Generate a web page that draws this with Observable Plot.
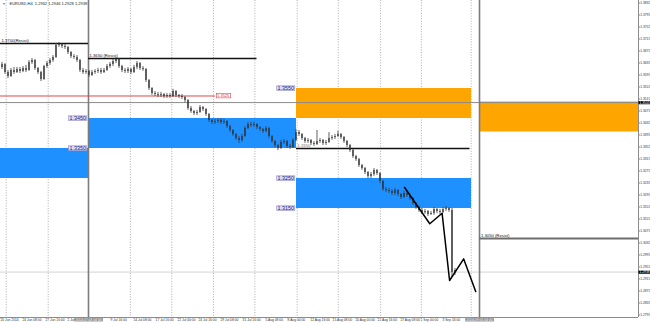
<!DOCTYPE html>
<html><head><meta charset="utf-8">
<script src="https://cdn.jsdelivr.net/npm/d3@7"></script>
<script src="https://cdn.jsdelivr.net/npm/@observablehq/plot@0.6"></script>
<style>html,body{margin:0;padding:0;background:#fff;overflow:hidden}#chart svg{display:block}</style>
</head><body><div id="chart"></div>
<script>
// ---------- data ----------
const symbolTitle = "EURUSD,H4  1.2932 1.2946 1.2928 1.2938";
const firstOpen = 1.3620;
const closes = [
 1.3630,1.3603,1.3590,1.3610,1.3603,1.3613,1.3607,1.3617,1.3610,1.3637,
 1.3643,1.3617,1.3603,1.3580,1.3623,1.3633,1.3643,1.3653,1.3693,1.3697,
 1.3690,1.3687,1.3670,1.3657,1.3653,1.3643,1.3610,1.3603,1.3607,1.3593,
 1.3603,1.3607,1.3610,1.3603,1.3610,1.3623,1.3630,1.3640,1.3647,1.3623,
 1.3610,1.3607,1.3613,1.3603,1.3620,1.3633,1.3617,1.3613,1.3577,1.3550,
 1.3533,1.3530,1.3527,1.3530,1.3523,1.3527,1.3523,1.3540,1.3527,1.3523,
 1.3520,1.3510,1.3483,1.3473,1.3467,1.3470,1.3487,1.3480,1.3463,1.3443,
 1.3437,1.3440,1.3443,1.3437,1.3440,1.3423,1.3410,1.3397,1.3383,1.3377,
 1.3390,1.3417,1.3430,1.3427,1.3430,1.3420,1.3413,1.3407,1.3417,1.3390,
 1.3373,1.3360,1.3350,1.3370,1.3373,1.3357,1.3353,1.3377,1.3403,1.3397,
 1.3383,1.3373,1.3377,1.3367,1.3363,1.3373,1.3377,1.3367,1.3370,1.3383,
 1.3387,1.3390,1.3397,1.3387,1.3373,1.3360,1.3343,1.3323,1.3313,1.3293,
 1.3283,1.3270,1.3257,1.3263,1.3277,1.3267,1.3240,1.3213,1.3210,1.3207,
 1.3200,1.3210,1.3197,1.3187,1.3200,1.3193,1.3183,1.3167,1.3153,1.3143,
 1.3137,1.3140,1.3130,1.3133,1.3147,1.3140,1.3137,1.3147,1.3150,1.3143,
 1.2937,1.2943];
const highs = [
 1.3637,1.3633,1.3610,1.3617,1.3620,1.3620,1.3620,1.3623,1.3627,1.3643,
 1.3650,1.3647,1.3620,1.3607,1.3627,1.3640,1.3650,1.3660,1.3700,1.3703,
 1.3700,1.3697,1.3690,1.3673,1.3663,1.3660,1.3647,1.3617,1.3613,1.3610,
 1.3610,1.3613,1.3617,1.3617,1.3617,1.3630,1.3637,1.3647,1.3653,1.3650,
 1.3627,1.3617,1.3620,1.3617,1.3627,1.3640,1.3637,1.3623,1.3617,1.3580,
 1.3553,1.3540,1.3537,1.3537,1.3533,1.3533,1.3533,1.3547,1.3543,1.3530,
 1.3530,1.3523,1.3513,1.3490,1.3477,1.3477,1.3493,1.3490,1.3483,1.3467,
 1.3447,1.3447,1.3450,1.3450,1.3447,1.3443,1.3427,1.3413,1.3400,1.3390,
 1.3397,1.3423,1.3437,1.3437,1.3437,1.3433,1.3423,1.3417,1.3423,1.3420,
 1.3393,1.3377,1.3363,1.3377,1.3380,1.3377,1.3363,1.3383,1.3413,1.3410,
 1.3400,1.3387,1.3383,1.3380,1.3373,1.3410,1.3383,1.3380,1.3377,1.3403,
 1.3393,1.3397,1.3407,1.3400,1.3390,1.3377,1.3363,1.3347,1.3327,1.3317,
 1.3297,1.3287,1.3273,1.3270,1.3283,1.3280,1.3270,1.3243,1.3220,1.3217,
 1.3213,1.3217,1.3213,1.3200,1.3207,1.3207,1.3197,1.3187,1.3170,1.3157,
 1.3150,1.3147,1.3143,1.3140,1.3153,1.3150,1.3147,1.3153,1.3157,1.3153,
 1.3150,1.2950];
const lows = [
 1.3613,1.3597,1.3583,1.3587,1.3597,1.3600,1.3600,1.3603,1.3603,1.3607,
 1.3630,1.3610,1.3597,1.3573,1.3577,1.3617,1.3627,1.3637,1.3650,1.3687,
 1.3683,1.3680,1.3663,1.3650,1.3647,1.3637,1.3603,1.3597,1.3597,1.3587,
 1.3590,1.3597,1.3600,1.3597,1.3600,1.3607,1.3617,1.3623,1.3633,1.3617,
 1.3603,1.3600,1.3600,1.3597,1.3600,1.3613,1.3610,1.3607,1.3570,1.3543,
 1.3527,1.3523,1.3520,1.3520,1.3517,1.3517,1.3517,1.3520,1.3520,1.3517,
 1.3513,1.3503,1.3477,1.3467,1.3460,1.3460,1.3467,1.3473,1.3457,1.3437,
 1.3430,1.3430,1.3433,1.3430,1.3430,1.3417,1.3403,1.3390,1.3377,1.3367,
 1.3370,1.3387,1.3413,1.3420,1.3420,1.3413,1.3407,1.3400,1.3403,1.3383,
 1.3367,1.3353,1.3343,1.3347,1.3363,1.3350,1.3347,1.3350,1.3373,1.3390,
 1.3377,1.3367,1.3367,1.3360,1.3357,1.3360,1.3367,1.3360,1.3360,1.3367,
 1.3377,1.3380,1.3387,1.3380,1.3367,1.3353,1.3337,1.3317,1.3307,1.3287,
 1.3277,1.3263,1.3250,1.3250,1.3257,1.3260,1.3233,1.3207,1.3203,1.3200,
 1.3193,1.3193,1.3190,1.3180,1.3183,1.3187,1.3177,1.3160,1.3147,1.3137,
 1.3130,1.3130,1.3123,1.3127,1.3127,1.3133,1.3130,1.3133,1.3140,1.3137,
 1.2920,1.2927];

// forecast zig-zag (bar index, price)
const forecastBar   = [134.2, 142.6, 146.7, 149.2, 153.9, 157.9];
const forecastPrice = [1.3220, 1.3099, 1.3134, 1.2910, 1.2982, 1.2873];

// zones (bar index from/to, price top/bottom)
const demandZones = [
  {from: -0.5,  to: 28.83,  top: 1.3350, bottom: 1.3250},
  {from: 28.83, to: 98.17,  top: 1.3450, bottom: 1.3350},
  {from: 98.17, to: 156.5,  top: 1.3250, bottom: 1.3150}];
const supplyZones = [
  {from: 98.17,  to: 156.5,  top: 1.3550, bottom: 1.3450},
  {from: 159.17, to: 212.17, top: 1.3505, bottom: 1.3405}];
const zoneLabels = [
  {i: 28.83, p: 1.3450}, {i: 28.83, p: 1.3350},
  {i: 98.17, p: 1.3550}, {i: 98.17, p: 1.3250}, {i: 98.17, p: 1.3150}];

// horizontal levels
const resistLevels = [
  {from: -0.5,   to: 28.83,  price: 1.3700, label: "1.3700(Resist)"},
  {from: 28.83,  to: 85.0,   price: 1.3650, label: "1.3650 (Resist)"},
  {from: 98.17,  to: 156.0,  price: 1.3350, label: "1.3350"}];
const lowerResist = {from: 159.17, to: 212.17, price: 1.3050, label: "1.3050 (Resist)"};
const redLevel = {from: -0.5, to: 71.2, price: 1.3525, label: "1.3525"};
const askPrice = 1.3503;
const bidPrice = 1.2938;

// vertical lines and grid (bar index)
const vLines = [28.83, 159.17];
const vLineLabels = ["2014.07.03 04:00", "2014.09.05 04:00"];
const gridBars = [1.4, 15.4, 42.8, 56.6, 70.5, 84.3, 98.4, 112.1, 126.2, 139.8, 156.4];

// axes
const priceTicks = [1.3835,1.3795,1.3755,1.3715,1.3675,1.3635,1.3595,1.3555,1.3515,1.3475,
  1.3435,1.3395,1.3355,1.3315,1.3275,1.3235,1.3195,1.3155,1.3115,1.3075,1.3035,1.2995,
  1.2955,1.2915,1.2875,1.2835,1.2795];
const timeTickBars = [-0.5, 6.8, 14.5, 21.8, 36.2, 43.8, 51.2, 58.5, 65.5, 72.8, 80.2, 87.8,
  95.2, 102.8, 110.2, 117.8, 125.2, 132.8, 139.5, 146.8];
const timeTickLabels = ["20 Jun 2014","24 Jun 08:00","27 Jun 16:00","2 Jul 00:00","9 Jul 16:00",
  "14 Jul 08:00","17 Jul 16:00","22 Jul 00:00","24 Jul 16:00","29 Jul 08:00","31 Jul 16:00",
  "5 Aug 08:00","8 Aug 00:00","12 Aug 16:00","15 Aug 08:00","20 Aug 00:00","22 Aug 16:00",
  "27 Aug 08:00","1 Sep 00:00","3 Sep 16:00"];

// ---------- build ----------
const bars = closes.map((c, i) => ({i, open: i === 0 ? firstOpen : closes[i - 1], close: c, high: highs[i], low: lows[i]}));
const forecast = forecastBar.map((b, k) => ({i: b, p: forecastPrice[k]}));
const tickLabelMap = new Map(timeTickBars.map((b, k) => [b, timeTickLabels[k]]));
const xDomain = [-0.5, 212.17];
const yDomain = [1.278663, 1.38433];
const FONT = "'Liberation Sans', Arial, sans-serif";

const chart = Plot.plot({
  width: 650, height: 322,
  marginLeft: 0, marginRight: 12, marginTop: 0, marginBottom: 5,
  style: {fontFamily: FONT, fontSize: "4px", background: "#fff", overflow: "visible"},
  x: {domain: xDomain, axis: null},
  y: {domain: yDomain, axis: null},
  marks: [
    Plot.ruleX(gridBars, {stroke: "#9a9a9a", strokeWidth: 0.8, strokeDasharray: "1,1.6"}),
    Plot.rect(demandZones, {x1: "from", x2: "to", y1: "bottom", y2: "top", fill: "#1E90FF"}),
    Plot.rect(supplyZones, {x1: "from", x2: "to", y1: "bottom", y2: "top", fill: "#FFA500"}),
    Plot.ruleY([askPrice], {stroke: "#8a8a8a", strokeWidth: 1}),
    Plot.ruleY([bidPrice], {stroke: "#d4d4d4", strokeWidth: 1}),
    Plot.ruleX(vLines, {stroke: "#7c7c7c", strokeWidth: 1.6}),
    Plot.ruleY(resistLevels, {y: "price", x1: "from", x2: "to", stroke: "#111", strokeWidth: 1.3}),
    Plot.ruleY([lowerResist], {y: "price", x1: "from", x2: "to", stroke: "#6e6e6e", strokeWidth: 2}),
    Plot.ruleY([redLevel], {y: "price", x1: "from", x2: "to", stroke: "#e04848", strokeWidth: 1}),
    // candles
    Plot.ruleX(bars, {x: "i", y1: "low", y2: "high", stroke: "#3a3a3a", strokeWidth: 0.8}),
    Plot.ruleX(bars, {x: "i", y1: "open", y2: "close", stroke: "#2a2a2a", strokeWidth: 1.2}),
    // forecast
    Plot.line(forecast, {x: "i", y: "p", stroke: "#000", strokeWidth: 1.5}),
    // labels
    Plot.text(resistLevels, {x: "from", y: "price", text: "label", textAnchor: "start", lineAnchor: "bottom", dx: 1, dy: -1, fill: d => d.price === 1.3350 ? "#777" : "#111", fontSize: 4.2}),
    Plot.text([lowerResist], {x: "from", y: "price", text: "label", textAnchor: "start", lineAnchor: "bottom", dx: 1.5, dy: -1.5, fill: "#111", fontSize: 4.2}),
    Plot.text(zoneLabels, {x: "i", y: "p", text: d => d.p.toFixed(4), textAnchor: "end", dx: -2.5, fill: "#1c1c8a", fontSize: 5.4, className: "zone-label"}),
    Plot.text([redLevel], {x: "to", y: "price", text: "label", textAnchor: "start", dx: 1.5, fill: "#d03030", fontSize: 4, className: "red-label"}),
    Plot.text([symbolTitle], {frameAnchor: "top-left", dx: 9, dy: 2, textAnchor: "start", lineAnchor: "top", fill: "#222", fontSize: 4}),
    Plot.text(["\u25BC"], {frameAnchor: "top-left", dx: 2, dy: 2.5, textAnchor: "start", lineAnchor: "top", fill: "#555", fontSize: 3}),
    // axes
    Plot.ruleX([xDomain[1]], {stroke: "#8c8c8c", strokeWidth: 1}),
    Plot.ruleY([yDomain[0]], {stroke: "#8c8c8c", strokeWidth: 1}),
    Plot.axisY({anchor: "right", ticks: priceTicks, tickFormat: d => d.toFixed(4), tickSize: 1.2, tickPadding: 0.5, fontSize: 3.3, fill: "#333", stroke: "#888"}),
    Plot.axisX({anchor: "bottom", ticks: timeTickBars, tickFormat: d => tickLabelMap.get(d), tickSize: 1.2, tickPadding: 0.3, textAnchor: "start", fontSize: 3.3, fill: "#333", stroke: "#888"}),
    Plot.text([askPrice, bidPrice], {y: d => d, frameAnchor: "right", textAnchor: "start", dx: 1, text: d => d.toFixed(4), fill: "#fff", fontSize: 3.3, className: "price-box"}),
    Plot.text(vLines, {x: d => d, frameAnchor: "bottom", lineAnchor: "top", dy: 0.8, text: (d, k) => vLineLabels[k], fill: "#fff", fontSize: 3.4, className: "time-box"})
  ]
});
document.getElementById("chart").appendChild(chart);

// boxes behind boxed labels
function boxes(cls, fill, stroke, padX, padY) {
  d3.select(chart).selectAll(`g.${cls} text, text.${cls}`).each(function () {
    const b = this.getBBox();
    const r = document.createElementNS("http://www.w3.org/2000/svg", "rect");
    r.setAttribute("x", b.x - padX); r.setAttribute("y", b.y - padY);
    r.setAttribute("width", b.width + 2 * padX); r.setAttribute("height", Math.max(1, b.height + 2 * padY));
    r.setAttribute("fill", fill);
    if (stroke) { r.setAttribute("stroke", stroke); r.setAttribute("stroke-width", 0.6); }
    const t = this.getAttribute("transform");
    if (t) r.setAttribute("transform", t);
    this.parentNode.insertBefore(r, this);
  });
}
boxes("zone-label", "#dcdcf4", "#8e8ec8", 0.8, -0.6);
boxes("red-label", "#fff", "#e04848", 0.6, -0.4);
boxes("price-box", "#000", null, 1, -0.4);
boxes("time-box", "#8a8a8a", null, 1, -0.3);
</script></body></html>
